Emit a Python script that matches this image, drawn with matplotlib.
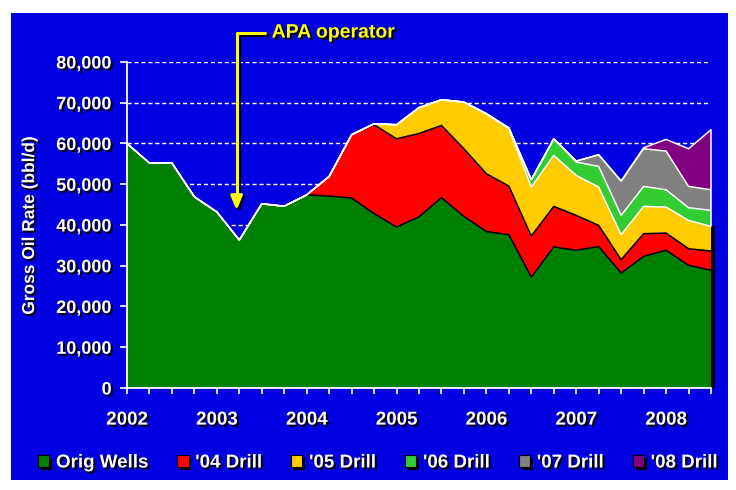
import numpy as np
import matplotlib
matplotlib.use("Agg")
import matplotlib.pyplot as plt
import matplotlib.patheffects as pe
from matplotlib.patches import Rectangle, Patch
from matplotlib.ticker import FuncFormatter
from matplotlib.transforms import offset_copy

plt.rcParams['font.family'] = ['Liberation Sans', 'DejaVu Sans']
plt.rcParams['font.weight'] = 'bold'

# ---------------- data ----------------
quarters = [2002.00, 2002.25, 2002.50, 2002.75,
            2003.00, 2003.25, 2003.50, 2003.75,
            2004.00, 2004.25, 2004.50, 2004.75,
            2005.00, 2005.25, 2005.50, 2005.75,
            2006.00, 2006.25, 2006.50, 2006.75,
            2007.00, 2007.25, 2007.50, 2007.75,
            2008.00, 2008.25, 2008.50]

series_names = ["Orig Wells", "'04 Drill", "'05 Drill", "'06 Drill", "'07 Drill", "'08 Drill"]

orig_wells = [60000, 55200, 55200, 46900, 43200, 36300, 45200, 44600, 47400, 47100,
              46600, 42800, 39500, 42000, 46700, 42100, 38400, 37600, 27200, 34600,
              33800, 34700, 28200, 32300, 33800, 30100, 28900]
drill_04 = [0, 0, 0, 0, 0, 0, 0, 0, 0, 4800,
            15550, 21800, 21660, 20450, 17740, 16600, 14180, 11950, 10090, 9960,
            8560, 5200, 3280, 5560, 4220, 4080, 4710]
drill_05 = [0, 0, 0, 0, 0, 0, 0, 0, 0, 0,
            0, 250, 3440, 6350, 6290, 11460, 14720, 14070, 12010, 12520,
            9810, 9400, 6130, 6700, 6380, 6950, 6050]
drill_06 = [0, 0, 0, 0, 0, 0, 0, 0, 0, 0,
            0, 0, 0, 0, 0, 0, 0, 200, 1800, 4080,
            3270, 5080, 4750, 4910, 4250, 3110, 3920]
drill_07 = [0, 0, 0, 0, 0, 0, 0, 0, 0, 0,
            0, 0, 0, 0, 0, 0, 0, 0, 0, 0,
            250, 2860, 8420, 9240, 9490, 5230, 5070]
drill_08 = [0, 0, 0, 0, 0, 0, 0, 0, 0, 0,
            0, 0, 0, 0, 0, 0, 0, 0, 0, 0,
            0, 0, 0, 250, 2860, 9240, 14720]

year_ticks = [2002, 2003, 2004, 2005, 2006, 2007, 2008]
year_labels = ["2002", "2003", "2004", "2005", "2006", "2007", "2008"]
y_ticks = [0, 10000, 20000, 30000, 40000, 50000, 60000, 70000, 80000]

# ---------------- style ----------------
BLUE = '#0000E1'
fill_colors = ['#008000', '#FF0000', '#FFCC00', '#33CC33', '#808080', '#800080']
edge_colors = ['black', 'black', 'white', 'white', 'white', 'white']

shadow = [pe.SimplePatchShadow(offset=(1.5, -1.5), shadow_rgbFace='black', alpha=0.95),
          pe.Normal()]

fig = plt.figure(figsize=(7.36, 4.9), dpi=100)
fig.patch.set_facecolor('white')
fig.patches.append(Rectangle((11 / 736, 10 / 490), 717 / 736, 467 / 490,
                             transform=fig.transFigure, facecolor=BLUE,
                             edgecolor='none', zorder=-10))

ax = fig.add_axes([127 / 736, 1 - 388 / 490, 584 / 736, 326 / 490])
ax.patch.set_visible(False)
ax.set_xlim(quarters[0], quarters[-1])
ax.set_ylim(0, 80000)

x = np.array(quarters)
layers = np.array([orig_wells, drill_04, drill_05, drill_06, drill_07, drill_08], dtype=float)
tops = np.cumsum(layers, axis=0)
bottoms = np.vstack([np.zeros(len(x)), tops[:-1]])

for i in range(len(layers)):
    ax.fill_between(x, bottoms[i], tops[i], facecolor=fill_colors[i], lw=0, zorder=2)
for i in range(len(layers)):
    ax.plot(x, tops[i], color=edge_colors[i], lw=1.1, zorder=3, solid_joinstyle='miter')

# right-edge shadow and outline
ax.plot([x[-1], x[-1]], [0, tops[2][-1]], color='black', lw=2.8, zorder=1.5,
        clip_on=False, solid_capstyle='butt',
        transform=offset_copy(ax.transData, fig, x=2.0, y=0, units='dots'))
ax.plot([x[-1], x[-1]], [tops[2][-1], tops[-1][-1]], color='white', lw=1.1,
        zorder=3, clip_on=False)

# grid
ax.set_axisbelow(True)
ax.yaxis.grid(True, color='white', linestyle=(0, (3, 2)), lw=1.0, zorder=0)

# spines
for s in ['top', 'right']:
    ax.spines[s].set_visible(False)
for s in ['left', 'bottom']:
    ax.spines[s].set_color('white')
    ax.spines[s].set_linewidth(1.3)
    ax.spines[s].set_zorder(4)

# ticks
ax.set_xticks(year_ticks)
ax.set_xticklabels(year_labels)
ax.set_xticks(quarters, minor=True)
ax.set_yticks(y_ticks)
ax.yaxis.set_major_formatter(FuncFormatter(lambda v, p: f"{v:,.0f}"))
ax.tick_params(axis='x', which='both', direction='out', length=4, width=1.2,
               color='white', labelcolor='white', labelsize=13.5, pad=13)
ax.tick_params(axis='y', which='both', direction='out', length=5, width=1.2,
               color='white', labelcolor='white', labelsize=13, pad=6)
for lbl in ax.get_xticklabels() + ax.get_yticklabels():
    lbl.set_fontweight('bold')
    lbl.set_path_effects(shadow)

ax.set_ylabel("Gross Oil Rate (bbl/d)", color='white', fontsize=12.5,
              fontweight='bold', path_effects=shadow)
ax.yaxis.set_label_coords(-0.154, 0.5)

# annotation
line_shadow = [pe.SimpleLineShadow(offset=(1.5, -1.5), shadow_color='black', alpha=0.95),
               pe.Normal()]
ax.annotate("APA operator", xy=(2003.22, 43600), xytext=(2003.61, 87100),
            textcoords='data', ha='left', va='center', fontsize=14,
            fontweight='bold', color='#FFFF00', annotation_clip=False,
            path_effects=shadow,
            arrowprops=dict(arrowstyle='-|>,head_length=0.6,head_width=0.25',
                            color='#FFFF00', lw=2.2,
                            connectionstyle='angle,angleA=0,angleB=90,rad=0',
                            relpos=(0, 0.5), shrinkA=3, shrinkB=0,
                            path_effects=line_shadow))

# legend
handles = [Patch(facecolor=c, edgecolor='black', lw=0.8,
                 path_effects=[pe.SimplePatchShadow(offset=(2, -2), shadow_rgbFace='black', alpha=1),
                               pe.Normal()])
           for c in fill_colors]
leg = fig.legend(handles, series_names, loc='center', bbox_to_anchor=(378 / 736, 1 - 463 / 490),
                 ncol=6, frameon=False, prop={'size': 13.5, 'weight': 'bold'},
                 handlelength=0.6, handleheight=0.6, handletextpad=0.35,
                 columnspacing=1.55, borderaxespad=0, borderpad=0, labelcolor='white')
for t in leg.get_texts():
    t.set_path_effects(shadow)

fig.savefig("out.png", dpi=100, facecolor='white')
